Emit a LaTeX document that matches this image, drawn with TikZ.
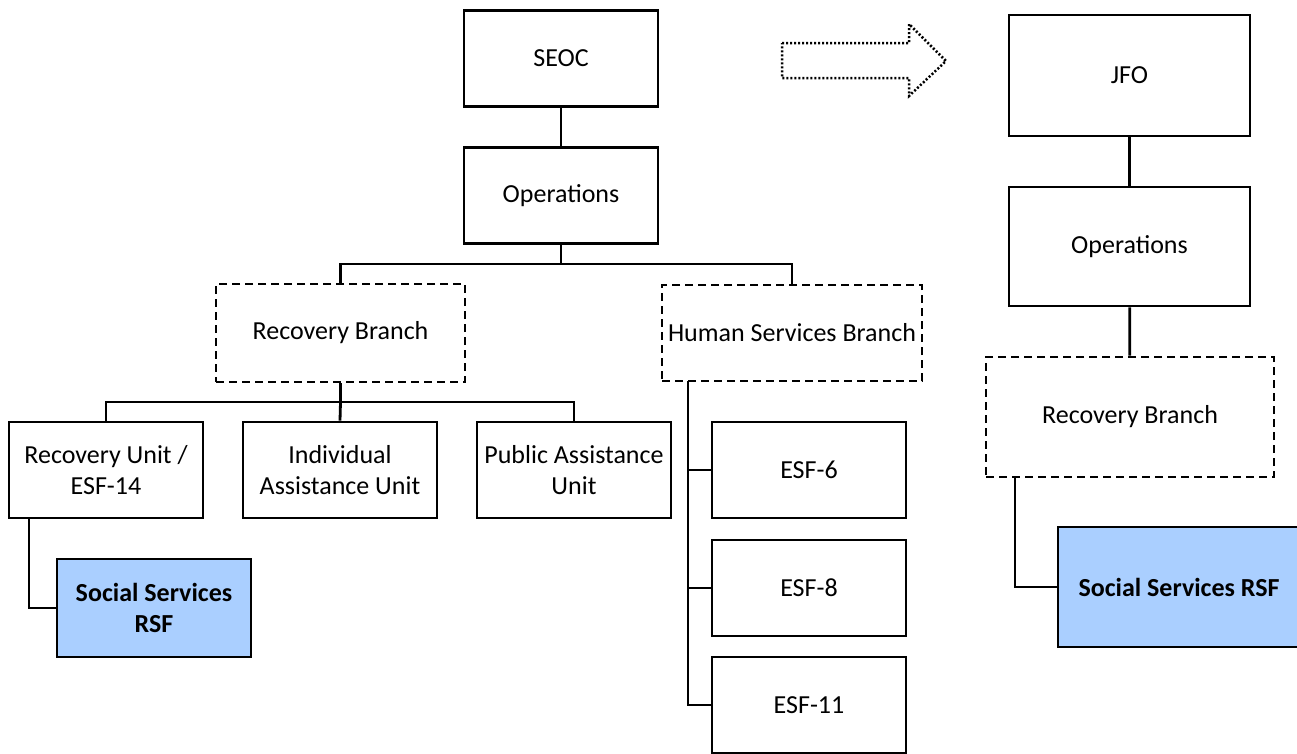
\documentclass[tikz,border=0pt]{standalone}
\usepackage{fontspec}
\setmainfont{Carlito}
\definecolor{rsfblue}{RGB}{170,207,255}
\begin{document}
\begin{tikzpicture}[x=1pt,y=-1pt,
  box/.style={draw=black, line width=2.8pt, fill=white, inner sep=0pt, align=center,
    font=\fontsize{26}{31}\selectfont, minimum width=194pt, minimum height=96pt},
  dbox/.style={box, dash pattern=on 8pt off 5pt},
  rsf/.style={box, fill=rsfblue, font=\fontsize{26}{31}\selectfont\bfseries},
  conn/.style={draw=black, line width=2.8pt},
  dotarrow/.style={draw=black, line width=2.5pt, dash pattern=on 2pt off 2pt}]
\useasboundingbox (0,0) rectangle (1297,753);
% left tree
\node[box] (seoc) at (561,58.5) {SEOC};
\node[box] (ops) at (561,195.5) {Operations};
\node[dbox, minimum width=249pt, minimum height=98pt] (rb) at (340.5,333) {Recovery Branch};
\node[dbox, minimum width=260pt, minimum height=96pt] (hsb) at (792,333) {Human Services Branch};
\node[box] (ru) at (106,470) {Recovery Unit /\\ESF-14};
\node[box] (ia) at (340,470) {Individual\\Assistance Unit};
\node[box] (pa) at (574,470) {Public Assistance\\Unit};
\node[rsf, minimum height=98pt] (ss1) at (154,608) {Social Services\\RSF};
\node[box] (esf6) at (809,470) {ESF-6};
\node[box] (esf8) at (809,588) {ESF-8};
\node[box] (esf11) at (809,705) {ESF-11};
\coordinate (busA) at (561,264);
\coordinate (busB) at (340.5,402);
\coordinate (spine) at (688,381);
\coordinate (ruleg) at (29,518);
\draw[conn] (seoc) -- (ops);
\draw[conn] (ops.south) -- (busA);
\draw[conn] (rb.north) |- (busA) -| (hsb.north);
\draw[conn] (rb.south) -- (busB);
\draw[conn] (ru.north) |- (busB) -| (pa.north);
\draw[conn] (busB) -- (ia.north);
\draw[conn] (ruleg) |- (ss1.west);
\draw[conn] (spine) |- (esf11.west);
\draw[conn] (spine) |- (esf6.west);
\draw[conn] (spine) |- (esf8.west);
% arrow
\draw[dotarrow] (782,43) -- (909,43) -- (909,24) -- (946,61) -- (909,96) -- (909,78) -- (782,78) -- cycle;
% right tree
\node[box, minimum width=241pt, minimum height=121pt] (jfo) at (1129.5,75.5) {JFO};
\node[box, minimum width=241pt, minimum height=119pt] (ops2) at (1129.5,246.5) {Operations};
\node[dbox, minimum width=288pt, minimum height=120pt] (rb2) at (1130,417) {Recovery Branch};
\node[rsf, minimum width=242pt, minimum height=120pt] (ss2) at (1179,587) {Social Services RSF};
\coordinate (rbleg) at (1015,477);
\draw[conn] (jfo) -- (ops2);
\draw[conn] (ops2) -- (rb2);
\draw[conn] (rbleg) |- (ss2.west);
\end{tikzpicture}
\end{document}
